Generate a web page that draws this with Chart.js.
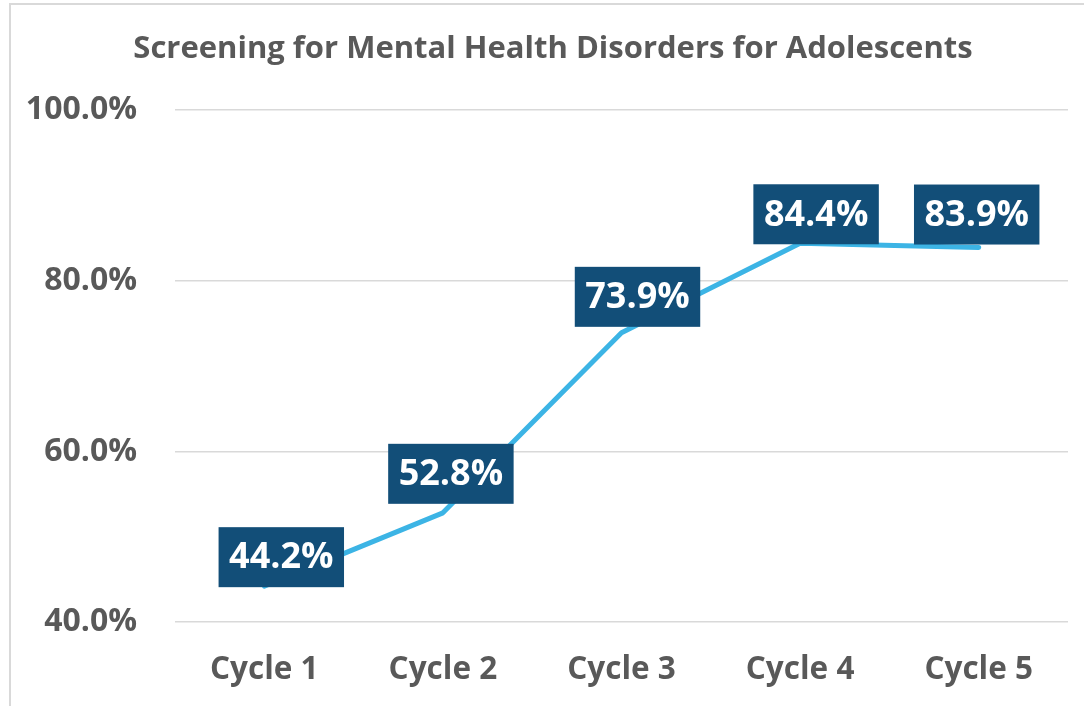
<!DOCTYPE html>
<html>
<head>
<meta charset="utf-8">
<script src="https://cdn.jsdelivr.net/npm/chart.js@4.4.1/dist/chart.umd.min.js"></script>
<style>
  html, body { margin: 0; padding: 0; background: #ffffff; overflow: hidden; }
  #frame { position: absolute; left: 9px; top: 3px; width: 1120px; height: 740px; border: 2px solid #d9d9d9; box-sizing: border-box; }
  #wrap { position: absolute; left: 0; top: 0; width: 1084px; height: 706px; }
</style>
</head>
<body>
<div id="frame"></div>
<div id="wrap"><canvas id="c" width="1084" height="706"></canvas></div>
<script>
const chartTitle = 'Screening for Mental Health Disorders for Adolescents';
const categories = ['Cycle 1', 'Cycle 2', 'Cycle 3', 'Cycle 4', 'Cycle 5'];
const screeningRate = [0.442, 0.528, 0.739, 0.844, 0.839];
const yTickValues = [0.4, 0.6, 0.8, 1.0];

const labelOffsetX = [17, 8, 16, 16, -2];
const labelOffsetY = [1, -9, -6, 1, -3];

const FONT = "'Open Sans', 'DejaVu Sans', sans-serif";
const GREY = '#595959';

const titleShift = {
  id: 'titleShift',
  afterLayout(chart) {
    const t = chart.titleBlock;
    if (t) { t.left = 38; }
  }
};

const labelBoxes = {
  id: 'labelBoxes',
  afterDatasetsDraw(chart) {
    const ctx = chart.ctx;
    const meta = chart.getDatasetMeta(0);
    ctx.save();
    ctx.font = "bold 36px " + FONT;
    meta.data.forEach((pt, i) => {
      const txt = (screeningRate[i] * 100).toFixed(1) + '%';
      const tw = ctx.measureText(txt).width;
      const w = tw + 21;
      const h = 60;
      const cx = pt.x + labelOffsetX[i];
      const bottom = pt.y + labelOffsetY[i];
      ctx.fillStyle = '#124e78';
      ctx.fillRect(cx - w / 2, bottom - h, w, h);
      ctx.fillStyle = '#ffffff';
      ctx.textAlign = 'center';
      ctx.textBaseline = 'middle';
      ctx.fillText(txt, cx, bottom - h / 2 + 1);
    });
    ctx.restore();
  }
};

new Chart(document.getElementById('c'), {
  type: 'line',
  data: {
    labels: categories,
    datasets: [{
      data: screeningRate,
      borderColor: '#3cb4e5',
      borderWidth: 5,
      pointRadius: 0,
      tension: 0,
      borderCapStyle: 'round',
      borderJoinStyle: 'round',
      fill: false
    }]
  },
  options: {
    responsive: false,
    animation: false,
    layout: { padding: { left: 0, right: 16, top: 31, bottom: 0 } },
    plugins: {
      legend: { display: false },
      tooltip: { enabled: false },
      title: {
        display: true,
        text: chartTitle,
        color: GREY,
        font: { family: FONT, size: 31, weight: 'bold' },
        padding: { top: 0, bottom: 42 }
      }
    },
    scales: {
      x: {
        offset: true,
        afterFit(scale) { scale.height = 84; },
        grid: { display: false, drawTicks: false },
        border: { display: false },
        ticks: { color: GREY, font: { family: FONT, size: 31.5, weight: 'bold' }, padding: 29, maxRotation: 0 }
      },
      y: {
        min: 0.4,
        max: 1.0,
        afterBuildTicks(scale) { scale.ticks = yTickValues.map(v => ({ value: v })); },
        afterFit(scale) { scale.width = 175; },
        grid: { color: '#d9d9d9', lineWidth: 1.5, drawTicks: false },
        border: { display: false },
        ticks: {
          color: GREY,
          font: { family: FONT, size: 32, weight: 'bold' },
          padding: 38,
          callback: v => (v * 100).toFixed(1) + '%'
        }
      }
    }
  },
  plugins: [titleShift, labelBoxes]
});
</script>
</body>
</html>
